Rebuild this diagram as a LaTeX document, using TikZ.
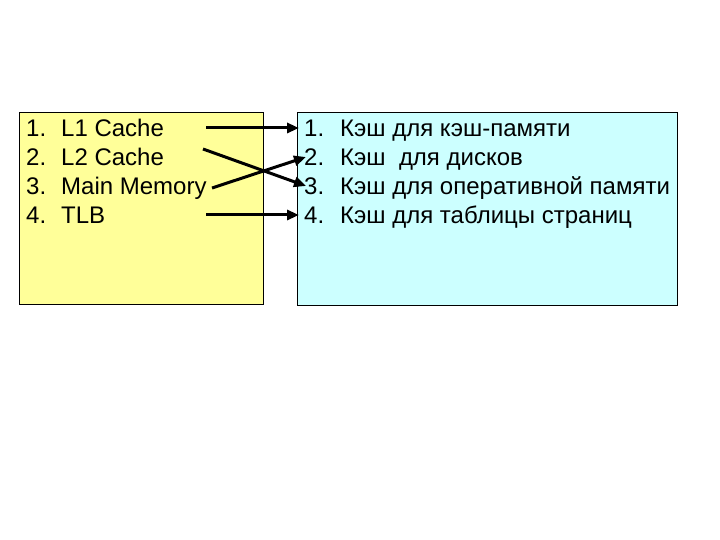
\documentclass[tikz,border=0pt]{standalone}
\usepackage{fontspec}
\setmainfont{Liberation Sans}
\usetikzlibrary{arrows.meta}
\definecolor{boxyellow}{RGB}{255,255,153}
\definecolor{boxcyan}{RGB}{204,255,255}
\tikzset{
  panel/.style={draw=black, line width=0.8pt},
  txt/.style={anchor=base west, inner sep=0pt, font=\fontsize{24}{28}\selectfont},
  link/.style={line width=3pt, -{Triangle[length=12pt,width=10pt]}}
}
\begin{document}
\begin{tikzpicture}[x=1pt,y=-1pt]
\useasboundingbox (0,0) rectangle (720,540);
\node[panel, fill=boxyellow, minimum width=244pt, minimum height=192pt, anchor=north west, inner sep=0pt] (leftbox) at (19,112) {};
\node[panel, fill=boxcyan, minimum width=380pt, minimum height=193pt, anchor=north west, inner sep=0pt] (rightbox) at (297,112) {};
% left list
\node[txt] (ln1) at (26,137) {1.};
\node[txt] (l1) at (61,137) {L1 Cache};
\node[txt] (ln2) at (26,166) {2.};
\node[txt] (l2) at (61,166) {L2 Cache};
\node[txt] (ln3) at (26,195) {3.};
\node[txt] (l3) at (61,195) {Main Memory};
\node[txt] (ln4) at (26,224) {4.};
\node[txt] (l4) at (61,224) {TLB};
% right list
\node[txt] (rn1) at (304,137) {1.};
\node[txt] (r1) at (340,137) {Кэш для кэш-памяти};
\node[txt] (rn2) at (304,166) {2.};
\node[txt] (r2) at (340,166) {Кэш\ \ для дисков};
\node[txt] (rn3) at (304,195) {3.};
\node[txt] (r3) at (340,195) {Кэш для оперативной памяти};
\node[txt] (rn4) at (304,224) {4.};
\node[txt] (r4) at (340,224) {Кэш для таблицы страниц};
% arrow endpoints
\coordinate (s1) at (206,128);
\coordinate (s2) at (203,149);
\coordinate (s3) at (212,188);
\coordinate (s4) at (206,215);
\coordinate (e1) at (299,128);
\coordinate (e2) at (306,157);
\coordinate (e3) at (306,186);
\coordinate (e4) at (299,215);
\draw[link] (s1) -- (e1);
\draw[link] (s2) -- (e3);
\draw[link] (s3) -- (e2);
\draw[link] (s4) -- (e4);
\end{tikzpicture}
\end{document}
